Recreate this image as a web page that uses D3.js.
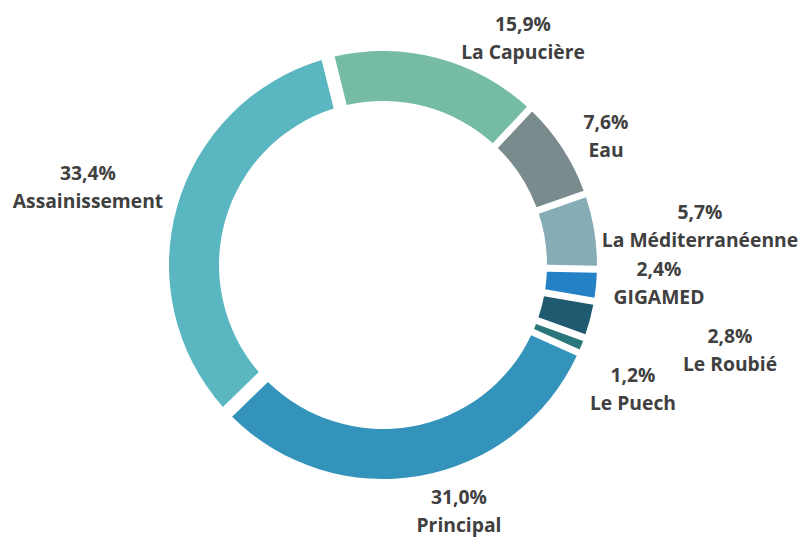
<!DOCTYPE html>
<html>
<head>
<meta charset="utf-8">
<script src="https://cdn.jsdelivr.net/npm/d3@7"></script>
<style>
  body { margin: 0; background: #fff; }
  text { font-family: "Open Sans", Lato, sans-serif; font-weight: 700; fill: #404040; }
</style>
</head>
<body>
<script>
// Data
const labels = ["La Capucière", "Eau", "La Méditerranéenne", "GIGAMED", "Le Roubié", "Le Puech", "Principal", "Assainissement"];
const values = [15.9, 7.6, 5.7, 2.4, 2.8, 1.2, 31.0, 33.4];
const colors = ["#76bca5", "#7a8b8e", "#86adb6", "#2581c6", "#1f5a70", "#2b767a", "#3493ba", "#5ab6c0"];
// label anchor positions (centre of the two-line label)
const labelX = [523, 606, 700, 659, 730, 633, 459, 88];
const labelY = [38, 136, 226, 283, 350, 389, 511, 187];
// gap each slice asks for, in px
const gaps = [7, 7, 7, 7, 7, 7, 7, 20];

const width = 804, height = 538;
const cx = 383, cy = 265;
const outerR = 214, innerR = 164;
const padR = 200;

const data = labels.map((l, i) => ({ label: l, value: values[i], color: colors[i], gap: gaps[i], lx: labelX[i], ly: labelY[i] }));

const svg = d3.select("body")
  .append("svg")
  .attr("width", width)
  .attr("height", height);

const startA = -14 * Math.PI / 180;
const pie = d3.pie()
  .value(d => d.value)
  .sort(null)
  .startAngle(startA)
  .endAngle(startA + 2 * Math.PI);

const arc = d3.arc()
  .innerRadius(innerR)
  .outerRadius(outerR)
  .padRadius(padR)
  .padAngle(d => d.data.gap / padR);

const g = svg.append("g")
  .attr("transform", `translate(${cx},${cy})`);

g.selectAll("path")
  .data(pie(data))
  .enter()
  .append("path")
  .attr("d", arc)
  .attr("fill", d => d.data.color);

// Labels
const fmt = v => d3.format(".1f")(v).replace(".", ",") + "%";

const lab = svg.selectAll(".lab")
  .data(data)
  .enter()
  .append("text")
  .attr("class", "lab")
  .attr("text-anchor", "middle")
  .style("font-size", "19.3px");

lab.append("tspan")
  .attr("x", d => d.lx)
  .attr("y", d => d.ly - 7)
  .text(d => fmt(d.value));

lab.append("tspan")
  .attr("x", d => d.lx)
  .attr("y", d => d.ly + 21)
  .text(d => d.label);
</script>
</body>
</html>
